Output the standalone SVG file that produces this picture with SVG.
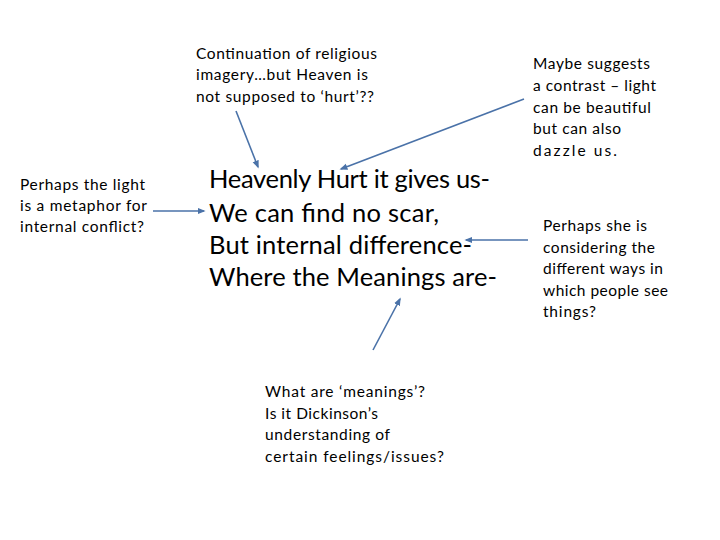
<svg xmlns="http://www.w3.org/2000/svg" width="720" height="540" viewBox="0 0 720 540">
<style>
text{font-family:Lato,"Open Sans","Noto Sans",sans-serif;fill:#000}
.s{font-size:15.5px}
.m{font-size:25.5px}
.c{stroke:#4a72a8;stroke-width:1.6;fill:none;marker-end:url(#ah)}
</style>
<defs>
<marker id="ah" viewBox="0 0 10 10" refX="8" refY="5" markerWidth="5" markerHeight="5" orient="auto" markerUnits="strokeWidth">
<path d="M0,1 L10,5 L0,9 Z" fill="#4a72a8"/>
</marker>
</defs>
<rect width="720" height="540" fill="#fff"/>
<g id="connectors">
<line class="c" x1="236" y1="111" x2="258" y2="167"/>
<line class="c" x1="524" y1="99" x2="341" y2="169"/>
<line class="c" x1="153" y1="211" x2="204" y2="211"/>
<line class="c" x1="528" y1="240" x2="466" y2="240"/>
<line class="c" x1="373" y1="350" x2="400" y2="299"/>
</g>
<g id="poem">
<text class="m" x="209" y="188" textLength="281">Heavenly Hurt it gives us-</text>
<text class="m" x="209" y="222" textLength="230">We can find no scar,</text>
<text class="m" x="209" y="254" textLength="263">But internal difference-</text>
<text class="m" x="209" y="286" textLength="288">Where the Meanings are-</text>
</g>
<g id="note-top">
<text class="s" x="196" y="59" textLength="181">Continuation of religious</text>
<text class="s" x="196" y="80" textLength="172">imagery…but Heaven is</text>
<text class="s" x="196" y="102" textLength="178">not supposed to ‘hurt’??</text>
</g>
<g id="note-topright">
<text class="s" x="533" y="69" textLength="117">Maybe suggests</text>
<text class="s" x="533" y="91" textLength="123">a contrast – light</text>
<text class="s" x="533" y="113" textLength="118">can be beautiful</text>
<text class="s" x="533" y="134" textLength="88">but can also</text>
<text class="s" x="533" y="156" textLength="84">dazzle us.</text>
</g>
<g id="note-left">
<text class="s" x="20" y="190" textLength="125">Perhaps the light</text>
<text class="s" x="20" y="211" textLength="127">is a metaphor for</text>
<text class="s" x="20" y="232" textLength="124">internal conflict?</text>
</g>
<g id="note-right">
<text class="s" x="543" y="231" textLength="104">Perhaps she is</text>
<text class="s" x="543" y="253" textLength="112">considering the</text>
<text class="s" x="543" y="274" textLength="120">different ways in</text>
<text class="s" x="543" y="296" textLength="125">which people see</text>
<text class="s" x="543" y="317" textLength="53">things?</text>
</g>
<g id="note-bottom">
<text class="s" x="265" y="397" textLength="160">What are ‘meanings’?</text>
<text class="s" x="265" y="419" textLength="113">Is it Dickinson’s</text>
<text class="s" x="265" y="440" textLength="125">understanding of</text>
<text class="s" x="265" y="462" textLength="179">certain feelings/issues?</text>
</g>
</svg>
